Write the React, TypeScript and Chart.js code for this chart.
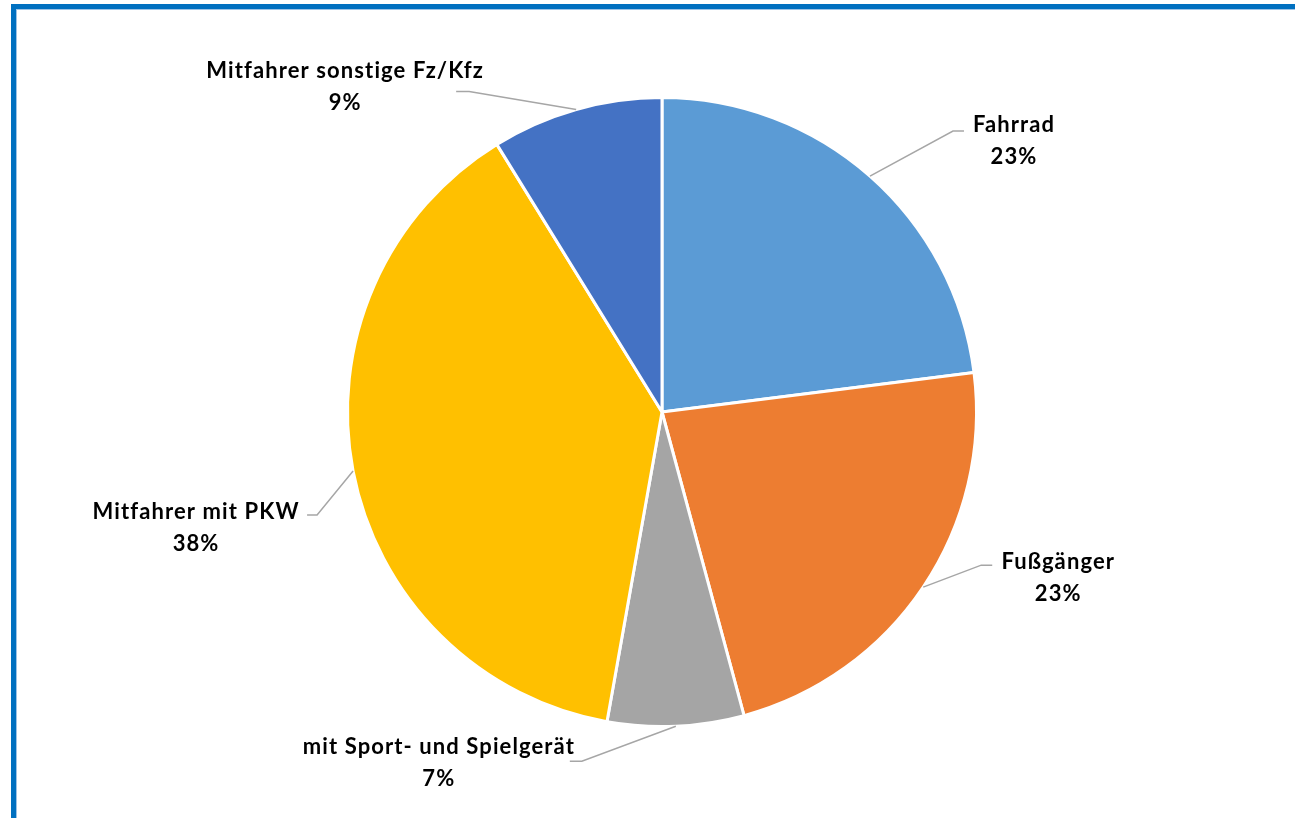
import React, { useEffect, useRef } from "react";
import { Chart, registerables } from "chart.js";

Chart.register(...registerables);

const categories = [
  "Fahrrad",
  "Fußgänger",
  "mit Sport- und Spielgerät",
  "Mitfahrer mit PKW",
  "Mitfahrer sonstige Fz/Kfz",
];
const shares = [23.0, 22.8, 7.0, 38.4, 8.8];
const sliceColors = ["#5B9BD5", "#ED7D31", "#A5A5A5", "#FFC000", "#4472C4"];

// leader-line elbow/end and text anchor offsets (px) relative to each slice's rim midpoint
const labelLayout = [
  { elbow: [83, -45], end: [94, -45], text: [144, -44] },
  { elbow: [58, -22], end: [69, -22], text: [135, -18] },
  { elbow: [-94, 35], end: [-106, 35], text: [-237, 28] },
  { elbow: [-36, 44], end: [-46, 44], text: [-157, 48] },
  { elbow: [-107, -18], end: [-120, -18], text: [-231, -31] },
];

const FONT = "bold 22px Lato";

const labelPlugin = {
  id: "calloutLabels",
  afterDraw(chart: any) {
    const ctx = chart.ctx;
    const meta = chart.getDatasetMeta(0);
    const data = chart.data.datasets[0].data as number[];
    const total = data.reduce((a, b) => a + b, 0);
    ctx.save();
    meta.data.forEach((arc: any, i: number) => {
      const p = arc.getProps(["x", "y", "startAngle", "endAngle", "outerRadius"], true);
      const mid = (p.startAngle + p.endAngle) / 2;
      const ax = p.x + Math.cos(mid) * p.outerRadius;
      const ay = p.y + Math.sin(mid) * p.outerRadius;
      const L = labelLayout[i];
      ctx.strokeStyle = "#A6A6A6";
      ctx.lineWidth = 1.5;
      ctx.beginPath();
      ctx.moveTo(ax, ay);
      ctx.lineTo(ax + L.elbow[0], ay + L.elbow[1]);
      ctx.lineTo(ax + L.end[0], ay + L.end[1]);
      ctx.stroke();
      ctx.fillStyle = "#000000";
      ctx.font = FONT;
      (ctx as any).letterSpacing = "1.1px";
      ctx.textAlign = "center";
      ctx.textBaseline = "alphabetic";
      const tx = ax + L.text[0];
      const ty = ay + L.text[1];
      ctx.fillText(chart.data.labels[i], tx, ty);
      ctx.fillText(Math.round((data[i] / total) * 100) + "%", tx, ty + 32);
    });
    ctx.restore();
  },
};

export default function App() {
  const ref = useRef<HTMLCanvasElement>(null);
  useEffect(() => {
    if (!ref.current) return;
    const chart = new Chart(ref.current, {
      type: "pie",
      data: {
        labels: categories,
        datasets: [
          {
            data: shares,
            backgroundColor: sliceColors,
            borderColor: "#FFFFFF",
            borderWidth: 3,
          },
        ],
      },
      options: {
        responsive: false,
        animation: false,
        layout: { padding: { top: 96, bottom: 90, left: 100, right: 71 } },
        plugins: {
          legend: { display: false },
          tooltip: { enabled: false },
        },
      },
      plugins: [labelPlugin],
    });
    return () => chart.destroy();
  }, []);
  return (
    <div
      style={{
        position: "absolute",
        left: 0,
        top: 0,
        width: 1295,
        height: 818,
        background: "#FFFFFF",
        overflow: "hidden",
      }}
    >
      <canvas ref={ref} width={1295} height={818} style={{ position: "absolute", left: 0, top: 0 }} />
      <div style={{ position: "absolute", left: 11, top: 4, width: 1284, height: 5, background: "#0070C0" }} />
      <div style={{ position: "absolute", left: 16, top: 9, width: 1279, height: 1, background: "#9DC3E6" }} />
      <div style={{ position: "absolute", left: 11, top: 4, width: 5, height: 814, background: "#0070C0" }} />
      <div style={{ position: "absolute", left: 16, top: 10, width: 1, height: 808, background: "#9DC3E6" }} />
    </div>
  );
}
